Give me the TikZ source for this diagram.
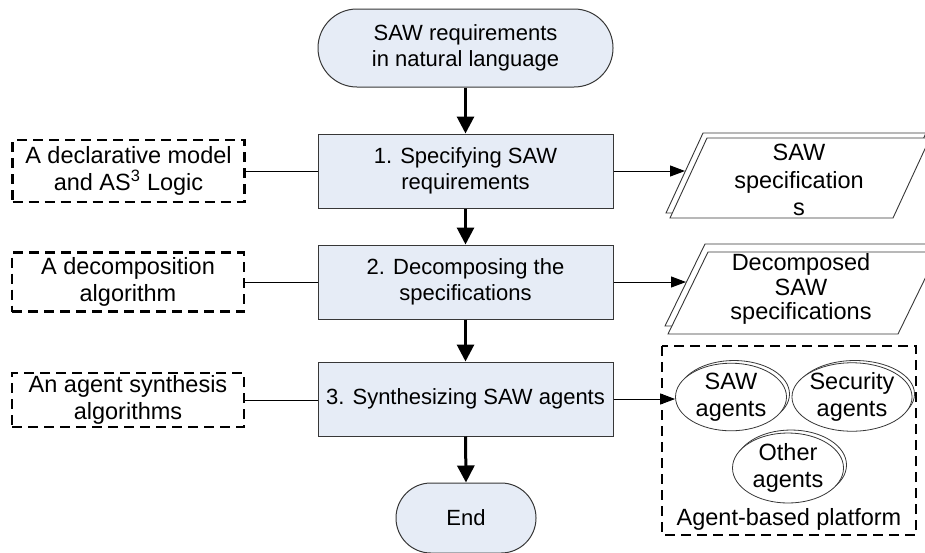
\documentclass[tikz,border=0pt]{standalone}
\usepackage{fontspec}
\setmainfont{Liberation Sans}
\usetikzlibrary{arrows.meta,shapes.geometric}
\definecolor{boxfill}{RGB}{230,236,246}
\definecolor{edgecol}{RGB}{55,55,55}
\begin{document}
\begin{tikzpicture}[x=1pt,y=-1pt,
  font=\fontsize{22}{26}\selectfont,
  bigtext/.style={font=\fontsize{23.5}{26.5}\selectfont},
  terminal/.style={draw=edgecol, fill=boxfill, line width=1pt, align=center, inner sep=0pt},
  process/.style={draw=edgecol, fill=boxfill, line width=1pt, minimum width=295pt, minimum height=74pt, align=center, inner sep=0pt},
  note/.style={draw=black, line width=2.2pt, dash pattern=on 10pt off 6pt, minimum width=232pt, align=center, inner sep=0pt, bigtext},
  agent/.style={draw=edgecol, fill=white, line width=0.8pt, ellipse, align=center, inner sep=0pt, bigtext},
  datashape/.style={draw=edgecol, fill=white, line width=0.9pt},
  flow/.style={line width=3pt, -{Triangle[width=17pt,length=17pt]}},
  link/.style={line width=1pt, -{Triangle[width=11pt,length=15pt]}},
  plain/.style={line width=1pt}
]
\useasboundingbox (0,0) rectangle (925,552);

% main flow
\node[terminal, minimum width=295pt, minimum height=78pt, rounded corners=38.9pt] (start) at (465.5,48) {SAW requirements\\in natural language};
\node[process] (p1) at (465.5,171) {1. Specifying SAW\\requirements};
\node[process] (p2) at (465.5,282) {2. Decomposing the\\specifications};
\node[process] (p3) at (465.5,399) {3. Synthesizing SAW agents};
\node[terminal, minimum width=140pt, minimum height=70pt, rounded corners=34.9pt] (end) at (466,518) {End};

\draw[flow] (start.south) -- (p1.north);
\draw[flow] (p1.south) -- (p2.north);
\draw[flow] (p2.south) -- (p3.north);
\draw[flow] (p3.south) -- (end.north);

% left notes
\node[note, minimum height=62pt] (n1) at (128.5,171) {A declarative model\\and AS\textsuperscript{3} Logic};
\node[note, minimum height=59pt] (n2) at (128,282) {A decomposition\\algorithm};
\node[note, minimum height=54pt] (n3) at (128,400) {An agent synthesis\\algorithms};
\draw[plain] (n1.east) -- (n1.east -| p1.west);
\draw[plain] (n2.east) -- (n2.east -| p2.west);
\draw[plain] (n3.east) -- (n3.east -| p3.west);

% data shape 1
\draw[datashape] (703,133) -- (926,133) -- (889,213) -- (666,213) -- cycle;
\draw[datashape] (707,138) -- (930,138) -- (893,218) -- (670,218) -- cycle;
\node[align=center, bigtext] (d1) at (799,180) {SAW\\[1pt]specification\\[1pt]s};
\coordinate (d1in) at (685,171);
\draw[link] (p1.east) -- (d1in);

% data shape 2
\draw[datashape] (705,244) -- (935,244) -- (895,326) -- (665,326) -- cycle;
\draw[datashape] (708,252) -- (938,252) -- (898,334) -- (668,334) -- cycle;
\node[align=center, font=\fontsize{23.5}{24.5}\selectfont] (d2) at (801,289) {Decomposed\\SAW\\specifications};
\coordinate (d2in) at (686,282);
\draw[link] (p2.east) -- (d2in);

% platform
\draw[line width=2.2pt, dash pattern=on 10pt off 6pt] (662,346) rectangle (916,535);
\node[bigtext] (plat) at (789,519) {Agent-based platform};

\draw[edgecol, fill=white, line width=0.8pt] (734,394) ellipse [x radius=55.5pt, y radius=33.5pt];
\node[agent, minimum width=111pt, minimum height=67pt] (saw) at (731,397) {SAW\\agents};
\draw[edgecol, fill=white, line width=0.8pt] (855,394) ellipse [x radius=59.5pt, y radius=33.5pt];
\node[agent, minimum width=119pt, minimum height=67pt] (sec) at (852,397) {Security\\agents};
\draw[edgecol, fill=white, line width=0.8pt] (791,465) ellipse [x radius=55.5pt, y radius=35pt];
\node[agent, minimum width=111pt, minimum height=70pt] (oth) at (788,468) {Other\\agents};

\draw[link] (p3.east) -- (p3.east -| saw.west);
\end{tikzpicture}
\end{document}
